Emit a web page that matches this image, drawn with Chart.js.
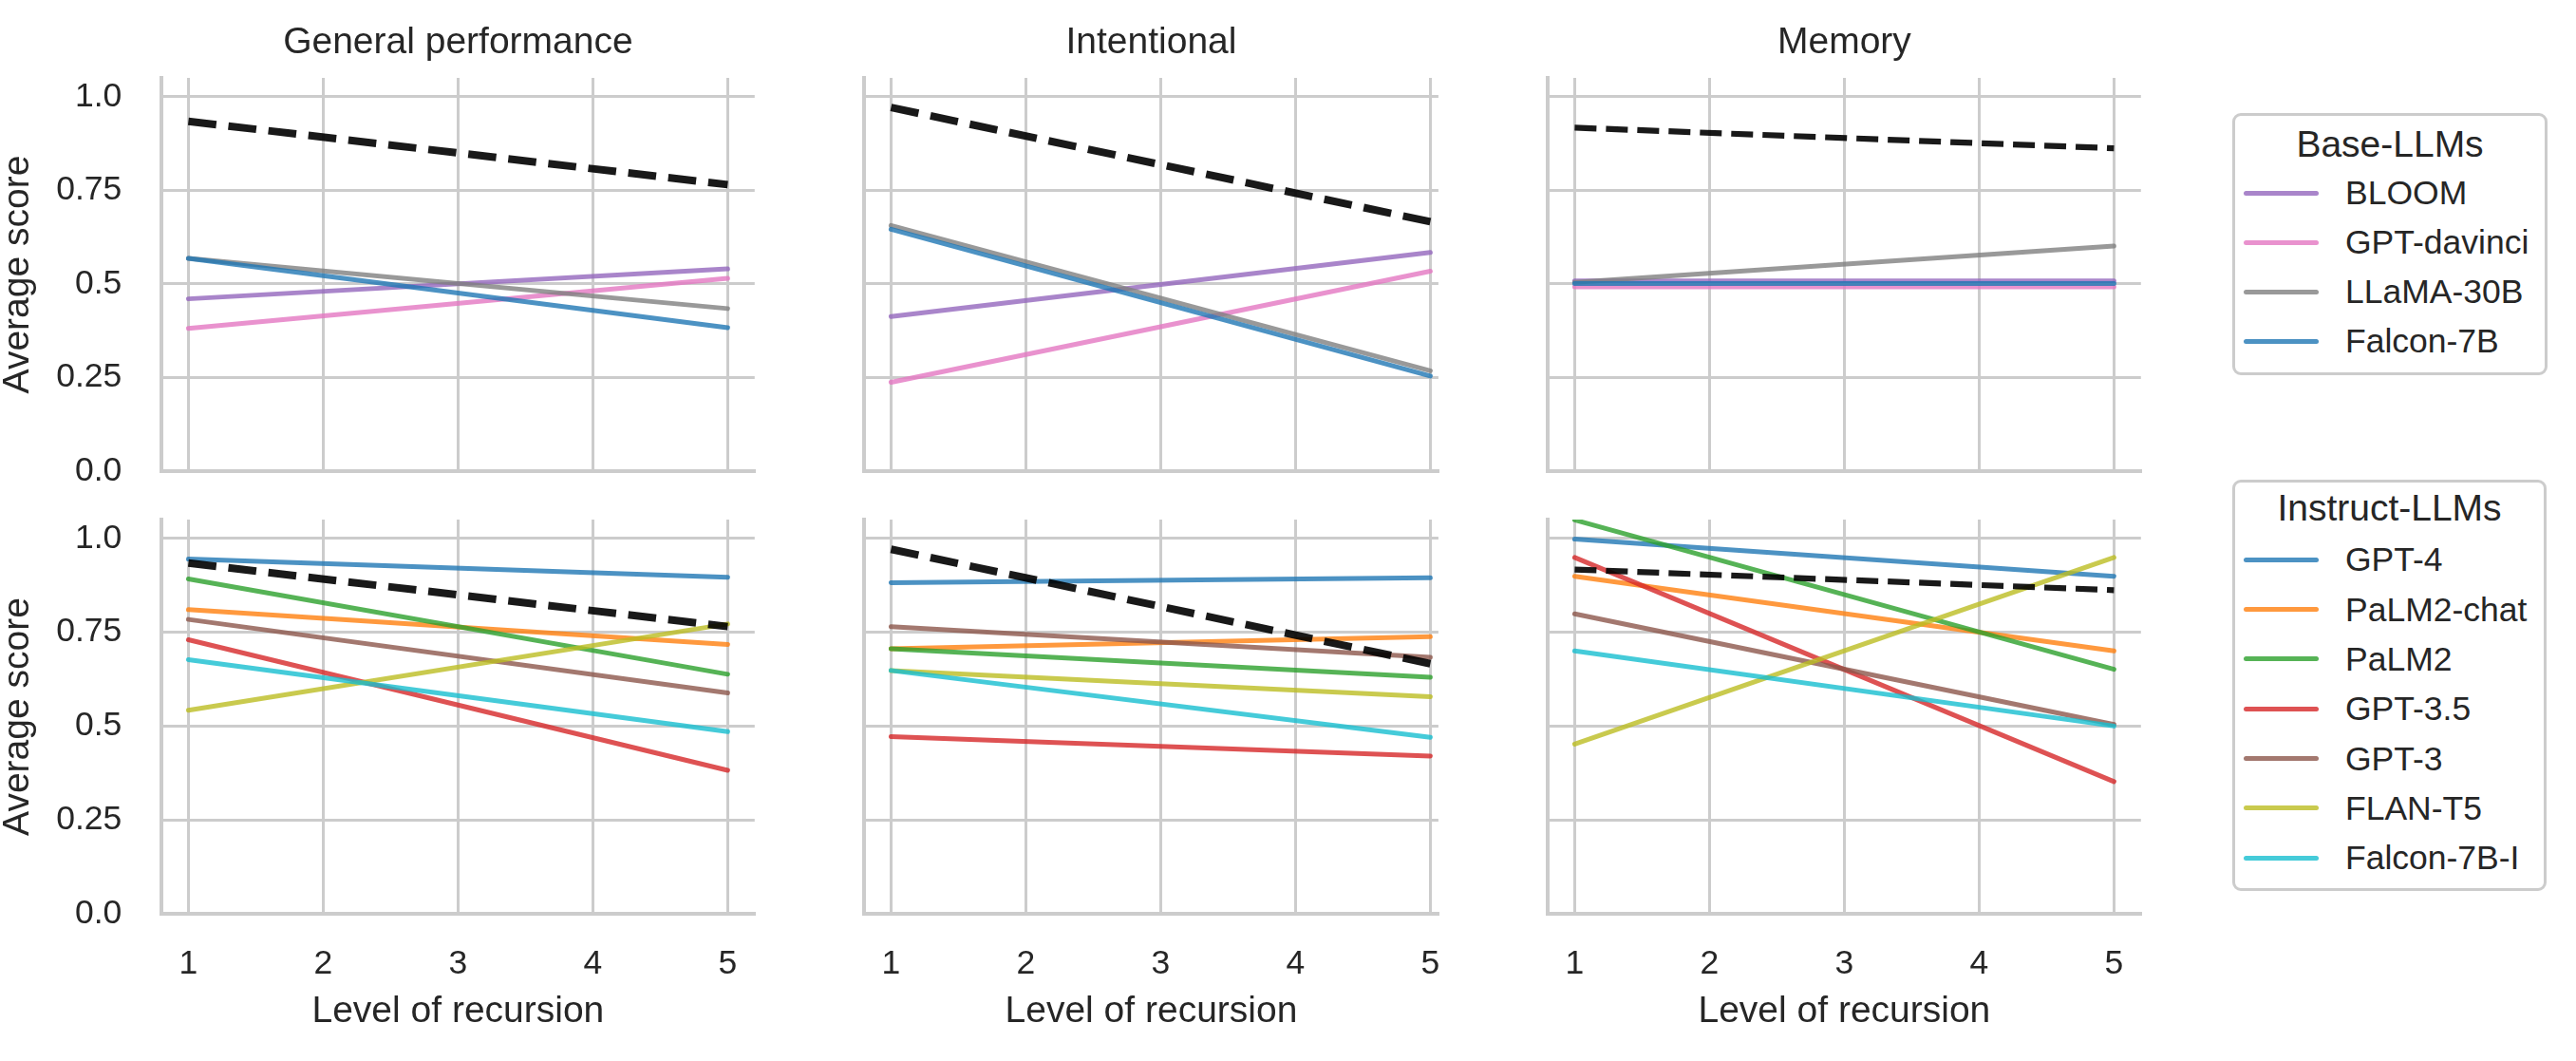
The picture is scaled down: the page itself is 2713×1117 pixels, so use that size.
<!DOCTYPE html>
<html>
<head>
<meta charset="utf-8">
<script src="https://cdn.jsdelivr.net/npm/chart.js@4.4.1/dist/chart.umd.min.js"></script>
<style>
  html, body { margin: 0; padding: 0; background: #ffffff; }
  #wrap { position: relative; width: 2713px; height: 1117px; overflow: hidden; background: #ffffff;
          font-family: "Liberation Sans", Arial, sans-serif; color: #262626; }
  #wrap canvas { position: absolute; }
  .lgbox { position: absolute; border: 3.3px solid #cccccc; border-radius: 9px; box-sizing: border-box; background: #ffffff; }
  .lgtitle { position: absolute; font-size: 39px; height: 50px; line-height: 50px; text-align: center; white-space: nowrap; }
  .lgtext { position: absolute; font-size: 35.5px; height: 50px; line-height: 50px; white-space: nowrap; }
  .lgline { position: absolute; height: 5px; border-radius: 3px; }
</style>
</head>
<body>
<div id="wrap"></div>
<script>
// ---------------- data ----------------
const levels = [1, 5];                        // recursion levels at which the fitted lines are read
const xTicks = [1, 2, 3, 4, 5];
const yTicks = [0, 0.25, 0.5, 0.75, 1.0];
const yTickLabels = ["0.0", "0.25", "0.5", "0.75", "1.0"];
const tasks = ["General performance", "Intentional", "Memory"];

const baseModels = ["BLOOM", "GPT-davinci", "LLaMA-30B", "Falcon-7B"];
const baseColors = ["#9467bd", "#e377c2", "#7f7f7f", "#1f77b4"];
const instructModels = ["GPT-4", "PaLM2-chat", "PaLM2", "GPT-3.5", "GPT-3", "FLAN-T5", "Falcon-7B-I"];
const instructColors = ["#1f77b4", "#ff7f0e", "#2ca02c", "#d62728", "#8c564b", "#bcbd22", "#17becf"];

// dashed reference line (score at level 1, level 5)
const refGeneral = [0.934, 0.765];
const refIntentional = [0.971, 0.666];
const refMemory = [0.917, 0.862];

// Base-LLMs, in baseModels order: score at level 1 / level 5
const baseGeneralL1 = [0.460, 0.381, 0.568, 0.568];
const baseGeneralL5 = [0.540, 0.515, 0.434, 0.383];
const baseIntentionalL1 = [0.413, 0.237, 0.656, 0.646];
const baseIntentionalL5 = [0.584, 0.534, 0.268, 0.254];
const baseMemoryL1 = [0.508, 0.492, 0.504, 0.501];
const baseMemoryL5 = [0.508, 0.492, 0.601, 0.501];

// Instruct-LLMs, in instructModels order: score at level 1 / level 5
const instructGeneralL1 = [0.945, 0.810, 0.892, 0.730, 0.784, 0.542, 0.677];
const instructGeneralL5 = [0.896, 0.717, 0.638, 0.382, 0.588, 0.772, 0.485];
const instructIntentionalL1 = [0.882, 0.706, 0.706, 0.472, 0.765, 0.648, 0.648];
const instructIntentionalL5 = [0.895, 0.738, 0.630, 0.420, 0.683, 0.578, 0.470];
const instructMemoryL1 = [0.998, 0.899, 1.049, 0.949, 0.799, 0.452, 0.700];
const instructMemoryL5 = [0.899, 0.700, 0.651, 0.352, 0.504, 0.949, 0.500];

// ---------------- layout / style ----------------
const FONT = '"Liberation Sans", Arial, sans-serif';
const TEXT = '#262626';
const GRID = '#cccccc';
Chart.defaults.font.family = FONT;
Chart.defaults.color = TEXT;

const colLeft = [170, 910, 1630];
const xMin = 0.8;
const colXMax = [5.2, 5.06, 5.2];
const pxPerUnit = 142;
const rowTop = [82, 547];
const rowBottom = [496, 962];

function rgba(hex, a) {
  const n = parseInt(hex.slice(1), 16);
  return `rgba(${(n >> 16) & 255},${(n >> 8) & 255},${n & 255},${a})`;
}

function makeDatasets(models, colors, l1, l5, ref, isMemory) {
  const ds = [{
    label: 'reference',
    data: levels.map((x, i) => ({ x: x, y: ref[i] })),
    borderColor: 'rgba(0,0,0,0.9)',
    borderWidth: isMemory ? 6.2 : 8,
    borderDash: isMemory ? [23, 10] : [29.6, 12.8],
    borderCapStyle: 'butt',
    pointRadius: 0, tension: 0, order: 0
  }];
  models.forEach((m, i) => {
    ds.push({
      label: m,
      data: [{ x: levels[0], y: l1[i] }, { x: levels[1], y: l5[i] }],
      borderColor: rgba(colors[i], 0.8),
      borderWidth: 5,
      borderCapStyle: 'round',
      pointRadius: 0, tension: 0,
      order: models.length - i
    });
  });
  return ds;
}

const wrap = document.getElementById('wrap');

function makePanel(row, col, datasets) {
  const chartLeft = colLeft[col];
  const chartRight = chartLeft + (colXMax[col] - xMin) * pxPerUnit;
  const canvasLeft = col === 0 ? 0 : chartLeft - 40;
  const yW = chartLeft - canvasLeft;
  const padRight = 30;
  const canvasTop = row === 0 ? 0 : 505;
  const canvasBottom = row === 0 ? 526 : 1117;
  const xH = canvasBottom - rowBottom[row];
  const w = Math.round(chartRight + padRight - canvasLeft);
  const h = canvasBottom - canvasTop;
  const padRightExact = canvasLeft + w - chartRight;

  const cv = document.createElement('canvas');
  cv.width = w; cv.height = h;
  cv.style.left = canvasLeft + 'px';
  cv.style.top = canvasTop + 'px';
  cv.style.width = w + 'px';
  cv.style.height = h + 'px';
  wrap.appendChild(cv);

  new Chart(cv.getContext('2d'), {
    type: 'line',
    data: { datasets: datasets },
    options: {
      responsive: false,
      animation: false,
      devicePixelRatio: 1,
      layout: { padding: { left: 0, right: padRightExact, top: row === 0 ? 0 : rowTop[row] - canvasTop, bottom: 0 } },
      plugins: {
        legend: { display: false },
        tooltip: { enabled: false },
        title: {
          display: row === 0,
          fullSize: false,
          text: tasks[col],
          color: TEXT,
          font: { family: FONT, size: 39, weight: 'normal', lineHeight: 1.2 },
          padding: { top: 22, bottom: rowTop[0] - 22 - 46.8 }
        }
      },
      scales: {
        x: {
          type: 'linear',
          min: xMin, max: colXMax[col],
          afterBuildTicks: s => { s.ticks = xTicks.map(v => ({ value: v })); },
          afterFit: s => { s.height = xH; s.paddingLeft = 0; s.paddingRight = 0; },
          grid: { color: GRID, lineWidth: 3, drawTicks: false },
          border: { display: true, color: GRID, width: 4 },
          ticks: {
            display: row === 1,
            padding: 32,
            color: TEXT,
            font: { family: FONT, size: 35.5 },
            maxRotation: 0,
            callback: v => String(v)
          },
          title: {
            display: row === 1,
            text: 'Level of recursion',
            color: TEXT,
            font: { family: FONT, size: 39, lineHeight: 1.2 },
            padding: { top: 0, bottom: 28.6 }
          }
        },
        y: {
          type: 'linear',
          min: 0, max: 1.05,
          afterBuildTicks: s => { s.ticks = yTicks.map(v => ({ value: v })); },
          afterFit: s => { s.width = yW; s.paddingTop = 0; s.paddingBottom = 0; },
          grid: { color: GRID, lineWidth: 3, drawTicks: false },
          border: { display: true, color: GRID, width: 4 },
          ticks: {
            display: col === 0,
            padding: 41.7,
            color: TEXT,
            font: { family: FONT, size: 35.5 },
            callback: v => yTickLabels[yTicks.indexOf(v)]
          },
          title: {
            display: col === 0,
            text: 'Average score',
            color: TEXT,
            font: { family: FONT, size: 39, lineHeight: 1 },
            padding: { top: 0, bottom: 0 }
          }
        }
      }
    }
  });
}

makePanel(0, 0, makeDatasets(baseModels, baseColors, baseGeneralL1, baseGeneralL5, refGeneral, false));
makePanel(0, 1, makeDatasets(baseModels, baseColors, baseIntentionalL1, baseIntentionalL5, refIntentional, false));
makePanel(0, 2, makeDatasets(baseModels, baseColors, baseMemoryL1, baseMemoryL5, refMemory, true));
makePanel(1, 0, makeDatasets(instructModels, instructColors, instructGeneralL1, instructGeneralL5, refGeneral, false));
makePanel(1, 1, makeDatasets(instructModels, instructColors, instructIntentionalL1, instructIntentionalL5, refIntentional, false));
makePanel(1, 2, makeDatasets(instructModels, instructColors, instructMemoryL1, instructMemoryL5, refMemory, true));

// ---------------- legends (HTML, built from the same arrays) ----------------
function buildLegend(title, models, colors, box) {
  const b = document.createElement('div');
  b.className = 'lgbox';
  b.style.left = box.left + 'px'; b.style.top = box.top + 'px';
  b.style.width = box.width + 'px'; b.style.height = box.height + 'px';
  wrap.appendChild(b);
  const t = document.createElement('div');
  t.className = 'lgtitle';
  t.textContent = title;
  t.style.left = box.left + 'px'; t.style.width = box.width + 'px';
  t.style.top = (box.titleY - 25) + 'px';
  wrap.appendChild(t);
  models.forEach((m, i) => {
    const cy = box.itemY0 + i * box.step;
    const ln = document.createElement('div');
    ln.className = 'lgline';
    ln.style.left = '2363px'; ln.style.width = '79px';
    ln.style.top = (cy - 2.5) + 'px';
    ln.style.background = rgba(colors[i], 0.8);
    wrap.appendChild(ln);
    const tx = document.createElement('div');
    tx.className = 'lgtext';
    tx.textContent = m;
    tx.style.left = '2470px';
    tx.style.top = (cy - 25) + 'px';
    wrap.appendChild(tx);
  });
}
buildLegend('Base-LLMs', baseModels, baseColors, { left: 2351, top: 119, width: 332, height: 276, titleY: 152, itemY0: 203.3, step: 52 });
buildLegend('Instruct-LLMs', instructModels, instructColors, { left: 2351, top: 505, width: 331, height: 433, titleY: 535, itemY0: 589.3, step: 52.3 });
</script>
</body>
</html>
